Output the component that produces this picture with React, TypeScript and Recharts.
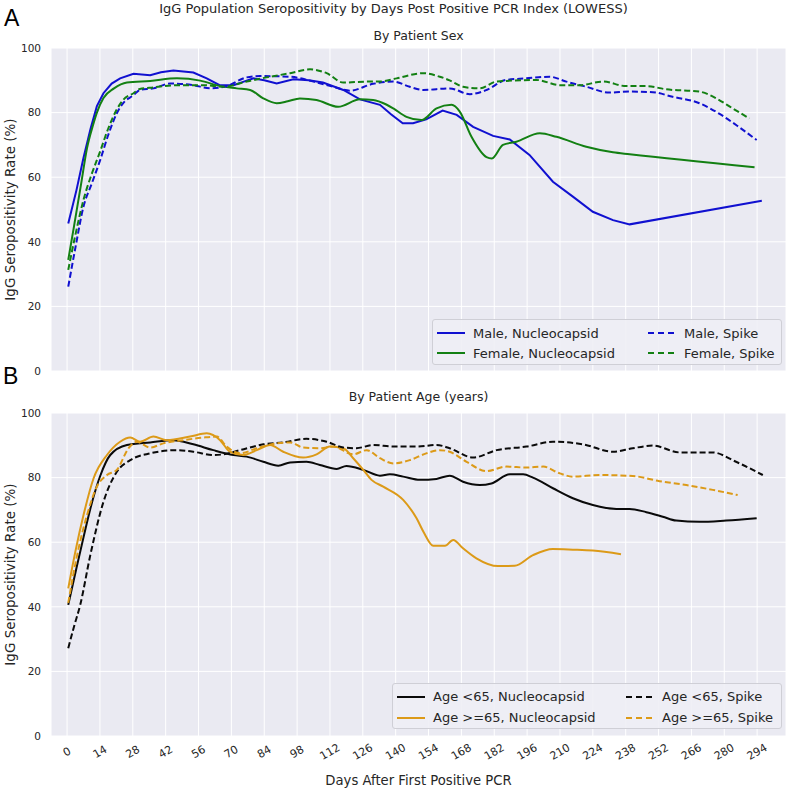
import React from 'react';
import { LineChart, Line, XAxis, YAxis, CartesianGrid, Legend, Label } from 'recharts';

type Pt = [number, number];

const xTickDays = [0, 14, 28, 42, 56, 70, 84, 98, 112, 126, 140, 154, 168, 182, 196, 210, 224, 238, 252, 266, 280, 294];
const yTickVals = [0, 20, 40, 60, 80, 100];

const maleNucleocapsid: Pt[] = [[0.5,45.7],[4,56],[7,66],[10,75],[12.7,82],[15.5,86],[19,89],[22.6,90.6],[28.3,92],[35.4,91.6],[40,92.5],[45.3,93],[53.8,92.4],[59.5,90.6],[65,88.5],[70.9,88.5],[75,89.5],[79.4,90.6],[84,90],[89.3,89],[96.4,90.3],[103,90],[109,89.3],[117.7,87],[124.8,84.1],[133.3,82.4],[138,79.5],[143,76.7],[147.4,76.7],[153,77.9],[160,80.6],[166,79.3],[173,75.6],[181.5,72.8],[188.6,71.7],[197,66.9],[207,58.6],[215.5,54],[224,49.3],[232.6,46.7],[239.7,45.4],[296,52.7]];
const femaleNucleocapsid: Pt[] = [[0.5,34.4],[3,45],[6,58],[8.5,69],[11,76],[12.7,80],[15.5,84.5],[20,87.5],[25.5,89.3],[35.4,89.8],[46.8,90.6],[56.7,89.9],[65.2,88.2],[72.3,87.5],[78,87],[83.6,84.4],[89.3,82.9],[94,83.5],[99.2,84.4],[106.3,83.9],[115.5,81.8],[124.8,84.1],[130.4,83.9],[136,82.5],[139,81.3],[144.6,78.7],[151,77.7],[157.4,81.3],[163.8,82.4],[167.3,80.3],[172.3,72.5],[178.7,66.2],[181,65.8],[185.7,70],[191.4,71],[201.4,73.6],[208.5,72.5],[221.2,69.4],[232.6,67.7],[239.7,67.1],[292.9,63.1]];
const maleSpike: Pt[] = [[0.5,26.1],[3.5,38],[7,50.9],[10.5,58],[14.1,65.3],[17.5,73],[21.2,79.8],[24,83],[28.3,85.4],[31,87],[36.8,87.5],[43.9,89],[53.8,88.5],[61,87.5],[68,88.2],[76.5,90.9],[82.2,91.3],[95,91.1],[105,89.6],[113.4,88],[120.5,86.8],[130.4,88.9],[139,89.6],[146,88],[151.7,87],[163,87.5],[171.6,85.7],[178.7,87],[187,90.1],[195.7,90.6],[205.6,91.1],[212.7,89.6],[221.2,88],[231,86.2],[239.7,86.5],[249.6,86.3],[258,84.9],[269.4,82.9],[278,79.6],[286.5,75.4],[293.8,71.5]];
const femaleSpike: Pt[] = [[0.5,31.3],[3.5,42],[7,53],[10.5,61],[14.1,68],[17.5,75],[21.2,81],[24,84],[28.3,86],[31,87.3],[36.8,87.8],[46.8,88.5],[58,88.5],[66.6,88],[76.5,89.6],[85,90.9],[95,92.2],[103.5,93.4],[110.6,92.2],[117.7,89.3],[127.6,89.6],[133,89.6],[140.4,90.6],[151.7,92.2],[158.8,91.1],[163,90],[168.7,88],[175.8,87.5],[183,89.6],[200,90.1],[210,88.5],[218.4,88.5],[228.3,89.6],[238.3,88.2],[246.8,88.2],[255.3,87.2],[269.4,86.5],[276.6,84.4],[283.6,81.3],[290.7,78.2]];

const under65Nucleocapsid: Pt[] = [[0.5,40.6],[4,52],[7,61.5],[10.5,72],[14.1,80.5],[18.4,87],[25.5,90.1],[35.4,90.9],[45.3,91.6],[53.8,90.3],[62.3,88.5],[70.9,87],[76.5,86.5],[83.6,84.9],[90,83.7],[95,84.7],[102,84.9],[107.7,83.9],[114.9,82.7],[119,83.6],[126.2,82.4],[133.3,80.6],[137.5,81],[143.2,80.3],[150.3,79.3],[157.4,79.6],[163,80.6],[168.7,78.7],[175.8,77.7],[180.8,78.2],[188.6,81],[194.3,81],[198.5,80],[207,76.7],[215.5,73.6],[224,71.5],[234,70.3],[239.7,70.3],[246.8,69.3],[253.8,67.9],[259.5,66.7],[269.4,66.3],[280.8,66.7],[293.8,67.4]];
const under65Spike: Pt[] = [[0.5,27.2],[3,34],[5.6,40.6],[9.9,56],[15.5,72.5],[21.2,81.8],[26.9,85.4],[35.4,87.5],[46.8,88.5],[53.8,88],[62.3,87],[66.6,87.2],[73.7,88.5],[83.6,90.3],[92.1,90.9],[102,92],[110.6,91.1],[117.7,89.3],[123.3,89.1],[130.4,90.1],[139,89.6],[148.9,89.6],[157.4,90.1],[163,89.1],[173,86.2],[183,88.5],[195.7,89.6],[207,91.1],[219.8,90.3],[232.6,88],[241,89.1],[249.6,89.9],[261,87.8],[275,87.8],[285,84.9],[296.4,80.8]];
const over65Nucleocapsid: Pt[] = [[0.5,45.7],[3.5,57],[7,68.4],[11.3,79.8],[17,87],[22.6,91.1],[26.9,92.4],[31.1,91.1],[36.8,92.7],[42.5,91.6],[52.4,92.7],[59.5,93.7],[65.2,91.6],[69.4,88],[75.1,87],[80.8,88.5],[86.5,90.1],[92.1,88],[100.6,86.2],[106.3,87.2],[112,89.6],[117.7,89.1],[121.9,86],[126.2,82.4],[129.7,79.3],[134.7,77.2],[143.2,73.1],[148.9,67.4],[152,63],[156,58.9],[161,58.9],[164.5,60.7],[168.7,58.1],[174.4,55],[183.6,52.6],[190.7,52.7],[198.5,56],[207,57.9],[215.5,57.7],[224,57.4],[236,56.3]];
const over65Spike: Pt[] = [[0.5,41.2],[4,55],[8.5,68.4],[12.7,77.2],[17,80.8],[21.2,82.4],[26.2,89.1],[29.7,91.1],[35.4,89.3],[41,90.6],[49.6,91.6],[58,92.4],[63.8,92.7],[68,89.6],[73.7,87.5],[80.8,89.1],[89.3,90.6],[95,90.9],[100.6,89.3],[107.7,89.1],[113.4,89.6],[121.9,87.2],[127.6,88.5],[133.3,86],[139,84.4],[146,85.4],[153,87.5],[158.8,88.5],[163,88],[170.2,84.9],[178.7,82],[187.2,83.4],[195.7,83.1],[202.8,83.4],[209.9,81.3],[215.5,80.3],[226.9,80.8],[241,80.5],[252.4,78.9],[263.8,77.7],[275.1,76.2],[285.7,74.6]];

const BLUE = '#1010d0';
const GREEN = '#138013';
const BLACK = '#0a0a0a';
const ORANGE = '#dc9a18';
const FONT = '"DejaVu Sans", sans-serif';
const TXT = '#262626';
const DASH = '6 3';

type Series = { name: string; data: Pt[]; color: string; dashed: boolean; curve: 'monotone' | 'linear' };

const seriesA: Series[] = [
  { name: 'Male, Nucleocapsid', data: maleNucleocapsid, color: BLUE, dashed: false, curve: 'linear' },
  { name: 'Female, Nucleocapsid', data: femaleNucleocapsid, color: GREEN, dashed: false, curve: 'monotone' },
  { name: 'Male, Spike', data: maleSpike, color: BLUE, dashed: true, curve: 'monotone' },
  { name: 'Female, Spike', data: femaleSpike, color: GREEN, dashed: true, curve: 'monotone' },
];
const seriesB: Series[] = [
  { name: 'Age <65, Nucleocapsid', data: under65Nucleocapsid, color: BLACK, dashed: false, curve: 'monotone' },
  { name: 'Age >=65, Nucleocapsid', data: over65Nucleocapsid, color: ORANGE, dashed: false, curve: 'monotone' },
  { name: 'Age <65, Spike', data: under65Spike, color: BLACK, dashed: true, curve: 'monotone' },
  { name: 'Age >=65, Spike', data: over65Spike, color: ORANGE, dashed: true, curve: 'monotone' },
];

const toRows = (pts: Pt[]) => pts.map(([day, rate]) => ({ day, rate }));

const XTick = (props: any) => {
  const { x, y, payload } = props;
  return (
    <g transform={`translate(${x},${y + 16})`}>
      <text x={0} y={0} textAnchor="middle" dominantBaseline="central" transform="rotate(-30)"
        fontSize={11} fontFamily={FONT} fill={TXT}>{payload.value}</text>
    </g>
  );
};

const YLabel = (props: any) => {
  const vb = props.viewBox || {};
  const cx = 10;
  const cy = (vb.y || 0) + (vb.height || 0) / 2;
  return (
    <text x={cx} y={cy} textAnchor="middle" dominantBaseline="central" transform={`rotate(-90, ${cx}, ${cy})`}
      fontSize={13.5} fontFamily={FONT} fill={TXT}>IgG Seropositivity Rate (%)</text>
  );
};

const XLabel = (props: any) => {
  const vb = props.viewBox || {};
  const cx = (vb.x || 0) + (vb.width || 0) / 2;
  return (
    <text x={cx} y={(vb.y || 0) + 44} textAnchor="middle" dominantBaseline="central"
      fontSize={13.2} fontFamily={FONT} fill={TXT}>Days After First Positive PCR</text>
  );
};

const makeLegend = (series: Series[], col2: number, rows: [number, number]) => () => (
  <div style={{ position: 'relative', width: '100%', height: '100%', boxSizing: 'border-box',
    background: 'rgba(238,238,245,0.9)', border: '1px solid #cfcfd6', borderRadius: 3, fontFamily: FONT, fontSize: 13, color: TXT }}>
    {series.map((s, i) => {
      const col = i < 2 ? 4 : col2;
      const cy = rows[i % 2];
      return (
        <div key={s.name} style={{ position: 'absolute', left: col, top: cy - 9, height: 18, display: 'flex', alignItems: 'center', whiteSpace: 'nowrap' }}>
          <svg width={28} height={6} style={{ marginRight: 8 }}>
            <line x1={0} y1={3} x2={28} y2={3} stroke={s.color} strokeWidth={2} strokeDasharray={s.dashed ? '6 4' : undefined} />
          </svg>
          <span>{s.name}</span>
        </div>
      );
    })}
  </div>
);

const Panel = (p: { series: Series[]; top: number; height: number; marginTop: number; marginBottom: number; showX: boolean;
  legendPos: { left: number; top: number; width: number; height: number }; col2: number; rows: [number, number] }) => (
  <div style={{ position: 'absolute', left: 0, top: p.top }}>
    <LineChart width={791} height={p.height} margin={{ top: p.marginTop, right: 5, bottom: p.marginBottom, left: 0 }}>
      <CartesianGrid fill="#EAEAF2" stroke="#ffffff" strokeWidth={1} />
      <XAxis type="number" dataKey="day" domain={[-6.85, 306.3]} allowDataOverflow ticks={xTickDays} interval={0}
        hide={!p.showX} height={p.showX ? 55 : 0} axisLine={false} tickLine={false} tickSize={0} tickMargin={0}
        tick={<XTick />} label={p.showX ? <Label content={<XLabel />} /> : undefined} />
      <YAxis type="number" domain={[0, 100]} ticks={yTickVals} interval={0} width={51} axisLine={false} tickLine={false}
        tickSize={0} tickMargin={10} tick={{ fontSize: 10.5, fontFamily: FONT, fill: TXT }}
        label={<Label content={<YLabel />} />} />
      {p.series.map((s) => (
        <Line key={s.name} data={toRows(s.data)} dataKey="rate" name={s.name} type={s.curve} stroke={s.color}
          strokeWidth={2} strokeDasharray={s.dashed ? DASH : undefined} dot={false} activeDot={false} isAnimationActive={false} />
      ))}
      <Legend layout="vertical" align="center" verticalAlign="middle" content={makeLegend(p.series, p.col2, p.rows)}
        wrapperStyle={{ left: p.legendPos.left, top: p.legendPos.top, width: p.legendPos.width, height: p.legendPos.height, margin: 0 }} />
    </LineChart>
  </div>
);

export default function App() {
  const t = (s: React.CSSProperties): React.CSSProperties => ({ position: 'absolute', fontFamily: FONT, color: TXT, whiteSpace: 'nowrap', lineHeight: 1, ...s });
  return (
    <div style={{ position: 'absolute', left: 0, top: 0, width: 791, height: 791, background: '#ffffff', overflow: 'hidden' }}>
      <Panel series={seriesA} top={0} height={380} marginTop={48} marginBottom={9} showX={false}
        legendPos={{ left: 432, top: 319, width: 350, height: 46 }} col2={215} rows={[13, 33]} />
      <Panel series={seriesB} top={380} height={411} marginTop={33} marginBottom={0} showX={true}
        legendPos={{ left: 392, top: 303, width: 390, height: 46 }} col2={233} rows={[12.5, 33.5]} />
      <div style={t({ left: 0, width: 787, top: 2, textAlign: 'center', fontSize: 13 })}>IgG Population Seropositivity by Days Post Positive PCR Index (LOWESS)</div>
      <div style={t({ left: 51, width: 735, top: 30, textAlign: 'center', fontSize: 12.5 })}>By Patient Sex</div>
      <div style={t({ left: 51, width: 735, top: 391, textAlign: 'center', fontSize: 12.5 })}>By Patient Age (years)</div>
      <div style={t({ left: 4, top: 7, fontSize: 23, fontFamily: '"Liberation Sans", Arial, sans-serif', color: '#000' })}>A</div>
      <div style={t({ left: 3, top: 365, fontSize: 23, fontFamily: '"Liberation Sans", Arial, sans-serif', color: '#000' })}>B</div>
    </div>
  );
}
